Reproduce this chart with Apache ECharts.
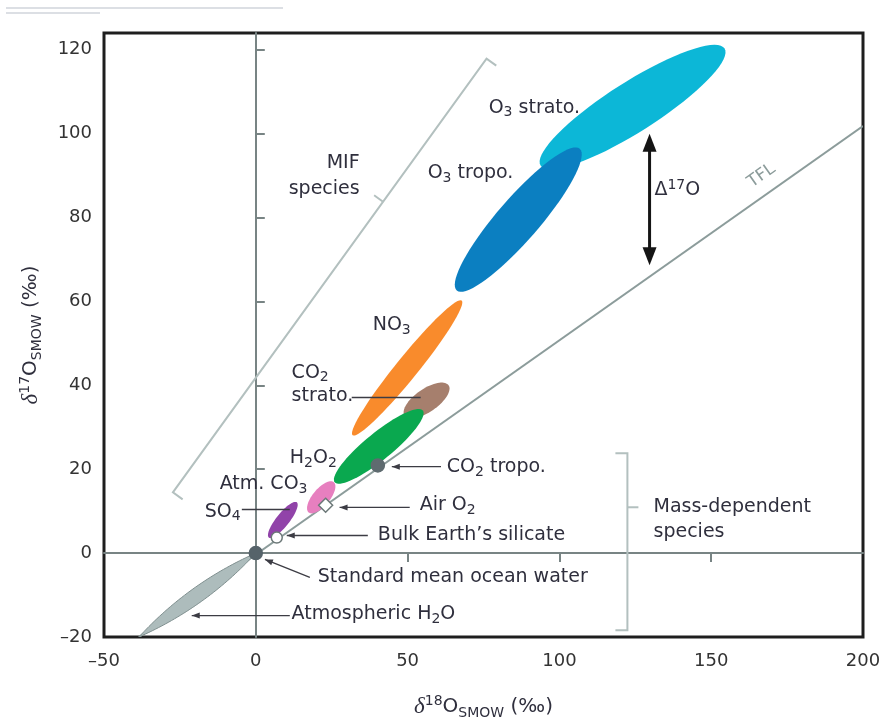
<!DOCTYPE html>
<html>
<head>
<meta charset="utf-8">
<script src="https://cdn.jsdelivr.net/npm/echarts@6/dist/echarts.min.js"></script>
<style>
  html, body { margin: 0; padding: 0; background: #fff; }
  #chart { width: 880px; height: 721px; }
</style>
</head>
<body>
<div id="chart"></div>
<script>
// ---- axis ticks (‰) ----
const xTicks = [-50, 0, 50, 100, 150, 200];
const yTicks = [-20, 0, 20, 40, 60, 80, 100, 120];
const xTickMarks = [50, 100, 150];
const yTickMarks = [20, 40, 60, 80, 100, 120];

// ---- oxygen reservoirs: the two ends of each field's long axis [δ18O, δ17O] ----
const fieldNames = ['Atmospheric H2O', 'SO4', 'Atm. CO3', 'CO2 strato.', 'H2O2', 'NO3', 'O3 strato.', 'O3 tropo.'];
const fieldFrom = [[-38.5, -20.0], [4.3, 3.7], [17.4, 9.7], [49.0, 32.8], [26.0, 16.9], [31.9, 28.1], [93.8, 92.4], [66.2, 62.6]];
const fieldTo   = [[0.0, 0.0], [13.5, 12.1], [25.7, 16.9], [63.5, 40.0], [55.0, 34.0], [67.8, 60.2], [154.4, 120.3], [106.7, 96.4]];

// ---- single reference samples ----
const sampleNames = ['Standard mean ocean water', 'Bulk Earth’s silicate', 'Air O2', 'CO2 tropo.'];
const sampleD18O = [0.0, 6.9, 23.0, 40.2];
const sampleD17O = [0.0, 3.7, 11.4, 20.9];

// ---- terrestrial fractionation line ----
const tflFrom = [-38.5, -20.0];
const tflTo = [200.0, 101.8];
const tflLabelAt = [166.6, 90.0];

// ---- Δ17O offset above the TFL ----
const deltaArrowFrom = [129.7, 68.6];
const deltaArrowTo = [129.7, 100.0];

// ---- brackets grouping the species ----
const bracketFrom = [[-27.3, 14.5], [122.4, -18.4]];
const bracketTo = [[76.0, 117.9], [122.4, 23.8]];
const bracketTickAt = [0.67, 0.695];

// ---- leader lines [fromδ18O, fromδ17O, toδ18O, toδ17O]; arrowed ones point at a sample ----
const leaderLines = [
  [61.0, 20.6, 44.8, 20.6],
  [50.7, 10.9, 27.6, 10.9],
  [36.9, 4.2, 10.2, 4.2],
  [17.8, -5.8, 3.0, -1.5],
  [11.2, -14.9, -21.1, -14.9],
  [-4.6, 10.4, 11.2, 10.4],
  [31.6, 37.1, 54.3, 37.1]
];
const leaderArrow = [true, true, true, true, true, false, false];

// ---- labels ----
const labelTexts = [
  'O{s|3} strato.', 'O{s|3} tropo.', 'NO{s|3}', 'CO{s|2}', 'strato.', 'H{s|2}O{s|2}',
  'Atm. CO{s|3}', 'SO{s|4}', 'CO{s|2} tropo.', 'Air O{s|2}', 'Bulk Earth’s silicate',
  'Standard mean ocean water', 'Atmospheric H{s|2}O', 'Mass-dependent', 'species',
  'MIF', 'species', 'Δ{p|17}O'
];
const labelAt = [
  [76.7, 106.2], [56.6, 90.5], [38.5, 54.3], [11.8, 43.0], [11.8, 37.5], [11.2, 22.6],
  [-11.9, 16.4], [-16.8, 9.9], [62.9, 20.4], [54.0, 11.4], [40.2, 4.2],
  [20.4, -5.8], [11.8, -14.6], [131.0, 10.9], [131.0, 4.9],
  [34.2, 92.9], [34.2, 86.7], [131.3, 86.5]
];

// ================= styles =================
const FONT = 'DejaVu Sans';
const TEXT = '#2f2f3d';
const AXIS_GREY = '#788484';
const BRACKET_GREY = '#b3c0bf';

const fieldStyle = [
  { color: '#adbcbc', half: 7.5, lens: true, stroke: '#7f8f8f' },
  { color: '#9143a9', half: 6.5 },
  { color: '#e77fbf', half: 8.5 },
  { color: '#a67f6d', half: 11.5 },
  { color: '#0aa84f', half: 13.5 },
  { color: '#f98b2c', half: 11 },
  { color: '#0cb7d7', half: 25 },
  { color: '#0b7fc1', half: 21 }
];
const sampleStyle = [
  { symbol: 'circle', size: 13, fill: '#56636a', border: '#56636a' },
  { symbol: 'circle', size: 11, fill: '#ffffff', border: '#6c7878' },
  { symbol: 'diamond', size: 14, fill: '#ffffff', border: '#6c7878' },
  { symbol: 'circle', size: 13, fill: '#5f6b70', border: '#5f6b70' }
];
const labelAlign = [
  'left', 'left', 'left', 'left', 'left', 'left', 'left', 'left', 'left', 'left', 'left',
  'left', 'left', 'left', 'left', 'right', 'right', 'left'
];
const bracketCapSide = [1, -1];
const bracketTickSide = [-1, 1];

const RICH = {
  s: { fontFamily: FONT, fontSize: 14, lineHeight: 13, verticalAlign: 'bottom', fill: TEXT },
  p: { fontFamily: FONT, fontSize: 14, lineHeight: 16, verticalAlign: 'top', fill: TEXT }
};
const NAME_RICH = {
  i: { fontFamily: 'Liberation Serif', fontStyle: 'italic', fontSize: 23, lineHeight: 26, color: TEXT },
  sup: { fontFamily: FONT, fontSize: 14, lineHeight: 15, verticalAlign: 'top', color: TEXT },
  sub: { fontFamily: FONT, fontSize: 14, lineHeight: 14, verticalAlign: 'bottom', color: TEXT }
};

const dash = v => String(v).replace('-', '–');

// ================= renderers =================
function fieldShape(params, api) {
  const st = fieldStyle[params.dataIndex];
  const a = api.coord([api.value(0), api.value(1)]);
  const b = api.coord([api.value(2), api.value(3)]);
  const cx = (a[0] + b[0]) / 2, cy = (a[1] + b[1]) / 2;
  const dx = b[0] - a[0], dy = b[1] - a[1];
  const len = Math.hypot(dx, dy);
  const ux = dx / len, uy = dy / len, nx = -uy, ny = ux;
  const ha = len / 2, hb = st.half;
  const pts = [];
  if (st.lens) {
    const N = 40;
    for (let k = 0; k <= N; k++) {
      const s = -1 + 2 * k / N, w = hb * (1 - s * s);
      pts.push([cx + ux * ha * s + nx * w, cy + uy * ha * s + ny * w]);
    }
    for (let k = N - 1; k > 0; k--) {
      const s = -1 + 2 * k / N, w = hb * (1 - s * s);
      pts.push([cx + ux * ha * s - nx * w, cy + uy * ha * s - ny * w]);
    }
  } else {
    const N = 72;
    for (let k = 0; k < N; k++) {
      const t = 2 * Math.PI * k / N;
      pts.push([cx + ux * ha * Math.cos(t) + nx * hb * Math.sin(t),
                cy + uy * ha * Math.cos(t) + ny * hb * Math.sin(t)]);
    }
  }
  return {
    type: 'polygon',
    shape: { points: pts },
    style: { fill: st.color, stroke: st.stroke || null, lineWidth: st.stroke ? 1 : 0 }
  };
}

function arrowHead(tip, from, len, half, color) {
  const dx = tip[0] - from[0], dy = tip[1] - from[1];
  const d = Math.hypot(dx, dy), ux = dx / d, uy = dy / d;
  const bx = tip[0] - ux * len, by = tip[1] - uy * len;
  return {
    type: 'polygon',
    shape: { points: [tip, [bx - uy * half, by + ux * half], [bx + uy * half, by - ux * half]] },
    style: { fill: color }
  };
}

function leaderShape(params, api) {
  const i = params.dataIndex;
  const a = api.coord([api.value(0), api.value(1)]);
  const b = api.coord([api.value(2), api.value(3)]);
  const children = [{
    type: 'line',
    shape: { x1: a[0], y1: a[1], x2: b[0], y2: b[1] },
    style: { stroke: '#3c3c44', lineWidth: 1.3 }
  }];
  if (leaderArrow[i]) children.push(arrowHead(b, a, 8, 3, '#3c3c44'));
  return { type: 'group', children };
}

function bracketShape(params, api) {
  const i = params.dataIndex;
  const a = api.coord([api.value(0), api.value(1)]);
  const b = api.coord([api.value(2), api.value(3)]);
  const dx = b[0] - a[0], dy = b[1] - a[1];
  const len = Math.hypot(dx, dy), ux = dx / len, uy = dy / len;
  const nx = -uy, ny = ux;
  const cs = bracketCapSide[i] * 12, ts = bracketTickSide[i] * 11;
  const t = bracketTickAt[i];
  const m = [a[0] + dx * t, a[1] + dy * t];
  const stroke = { stroke: BRACKET_GREY, lineWidth: 2, fill: null };
  return {
    type: 'group',
    children: [
      { type: 'polyline', shape: { points: [[a[0] + nx * cs, a[1] + ny * cs], a, b, [b[0] + nx * cs, b[1] + ny * cs]] }, style: stroke },
      { type: 'line', shape: { x1: m[0], y1: m[1], x2: m[0] + nx * ts, y2: m[1] + ny * ts }, style: stroke }
    ]
  };
}

function tflShape(params, api) {
  const a = api.coord([api.value(0), api.value(1)]);
  const b = api.coord([api.value(2), api.value(3)]);
  const p = api.coord(tflLabelAt);
  const ang = Math.atan2(a[1] - b[1], b[0] - a[0]);
  return {
    type: 'group',
    children: [
      { type: 'line', shape: { x1: a[0], y1: a[1], x2: b[0], y2: b[1] }, style: { stroke: '#8c9c9b', lineWidth: 2 } },
      { type: 'text', x: p[0], y: p[1], rotation: ang,
        style: { text: 'TFL', fill: '#8c9c9b', fontFamily: FONT, fontSize: 17, align: 'center', verticalAlign: 'middle' } }
    ]
  };
}

function deltaArrowShape(params, api) {
  const a = api.coord([api.value(0), api.value(1)]);
  const b = api.coord([api.value(2), api.value(3)]);
  const hl = 18, hw = 7;
  const dx = b[0] - a[0], dy = b[1] - a[1];
  const d = Math.hypot(dx, dy), ux = dx / d, uy = dy / d;
  return {
    type: 'group',
    children: [
      { type: 'line', shape: { x1: a[0] + ux * hl * 0.8, y1: a[1] + uy * hl * 0.8, x2: b[0] - ux * hl * 0.8, y2: b[1] - uy * hl * 0.8 },
        style: { stroke: '#151515', lineWidth: 3 } },
      arrowHead(a, b, hl, hw, '#151515'),
      arrowHead(b, a, hl, hw, '#151515')
    ]
  };
}

function labelShape(params, api) {
  const i = params.dataIndex;
  const p = api.coord([api.value(0), api.value(1)]);
  return {
    type: 'text', x: p[0], y: p[1],
    style: {
      text: labelTexts[i], fill: TEXT, fontFamily: FONT, fontSize: 19, lineHeight: 24,
      align: labelAlign[i], verticalAlign: 'middle', rich: RICH
    }
  };
}

const segData = (from, to) => from.map((p, i) => [p[0], p[1], to[i][0], to[i][1]]);
const customBase = { type: 'custom', silent: true, animation: false, encode: { x: [0, 2], y: [1, 3] } };

const chart = echarts.init(document.getElementById('chart'), null, { renderer: 'canvas' });
chart.setOption({
  animation: false,
  textStyle: { fontFamily: FONT },
  graphic: [
    { type: 'rect', shape: { x: 6, y: 7, width: 277, height: 2 }, style: { fill: '#dcdfe4' }, silent: true },
    { type: 'rect', shape: { x: 6, y: 12, width: 94, height: 2 }, style: { fill: '#dcdfe4' }, silent: true }
  ],
  grid: {
    left: 104, right: 17, top: 33, bottom: 84,
    show: true, borderColor: '#1e1e1e', borderWidth: 3, backgroundColor: 'transparent',
    containLabel: false, outerBoundsMode: 'none'
  },
  xAxis: [
    {
      type: 'value', min: -50, max: 200, interval: 50, position: 'bottom',
      axisLine: { show: false, onZero: false }, axisTick: { show: false }, splitLine: { show: false },
      axisLabel: { customValues: xTicks, fontFamily: FONT, fontSize: 18, color: '#333333', margin: 15, formatter: dash },
      name: '{i|δ}{sup|18}O{sub|SMOW} (‰)', nameLocation: 'middle', nameGap: 57,
      nameTextStyle: { fontFamily: FONT, fontSize: 20, lineHeight: 26, color: TEXT, rich: NAME_RICH }
    },
    {
      type: 'value', min: -50, max: 200, interval: 50, position: 'top',
      axisLine: { show: true, onZero: true, onZeroAxisIndex: 0, lineStyle: { color: AXIS_GREY, width: 2 } },
      axisTick: { show: true, inside: true, length: 9, customValues: xTickMarks, lineStyle: { color: AXIS_GREY, width: 2 } },
      axisLabel: { show: false }, splitLine: { show: false }
    }
  ],
  yAxis: [
    {
      type: 'value', min: -20, max: 124, interval: 20, position: 'left',
      axisLine: { show: false, onZero: false }, axisTick: { show: false }, splitLine: { show: false },
      axisLabel: { customValues: yTicks, fontFamily: FONT, fontSize: 18, color: '#333333', margin: 12, formatter: dash },
      name: '{i|δ}{sup|17}O{sub|SMOW} (‰)', nameLocation: 'middle', nameGap: 60,
      nameTextStyle: { fontFamily: FONT, fontSize: 20, lineHeight: 26, color: TEXT, rich: NAME_RICH }
    },
    {
      type: 'value', min: -20, max: 124, interval: 20, position: 'right',
      axisLine: { show: true, onZero: true, onZeroAxisIndex: 0, lineStyle: { color: AXIS_GREY, width: 2 } },
      axisTick: { show: true, inside: false, length: 9, customValues: yTickMarks, lineStyle: { color: AXIS_GREY, width: 2 } },
      axisLabel: { show: false }, splitLine: { show: false }
    }
  ],
  series: [
    Object.assign({}, customBase, { name: 'TFL', clip: true, data: [[tflFrom[0], tflFrom[1], tflTo[0], tflTo[1]]], renderItem: tflShape }),
    Object.assign({}, customBase, { name: 'brackets', data: segData(bracketFrom, bracketTo), renderItem: bracketShape }),
    Object.assign({}, customBase, {
      name: 'fields', clip: true,
      data: fieldNames.map((n, i) => ({ name: n, value: [fieldFrom[i][0], fieldFrom[i][1], fieldTo[i][0], fieldTo[i][1]] })),
      renderItem: fieldShape
    }),
    Object.assign({}, customBase, { name: 'Δ17O', data: [[deltaArrowFrom[0], deltaArrowFrom[1], deltaArrowTo[0], deltaArrowTo[1]]], renderItem: deltaArrowShape }),
    Object.assign({}, customBase, { name: 'leaders', data: leaderLines, renderItem: leaderShape }),
    {
      type: 'scatter', name: 'samples', silent: true, animation: false,
      emphasis: { disabled: true },
      data: sampleNames.map((n, i) => ({
        name: n, value: [sampleD18O[i], sampleD17O[i]],
        symbol: sampleStyle[i].symbol, symbolSize: sampleStyle[i].size,
        itemStyle: { color: sampleStyle[i].fill, borderColor: sampleStyle[i].border, borderWidth: 1.5, opacity: 1 }
      }))
    },
    {
      type: 'custom', name: 'labels', silent: true, animation: false,
      encode: { x: 0, y: 1 },
      data: labelAt.map(p => [p[0], p[1]]),
      renderItem: labelShape
    }
  ]
});
</script>
</body>
</html>
